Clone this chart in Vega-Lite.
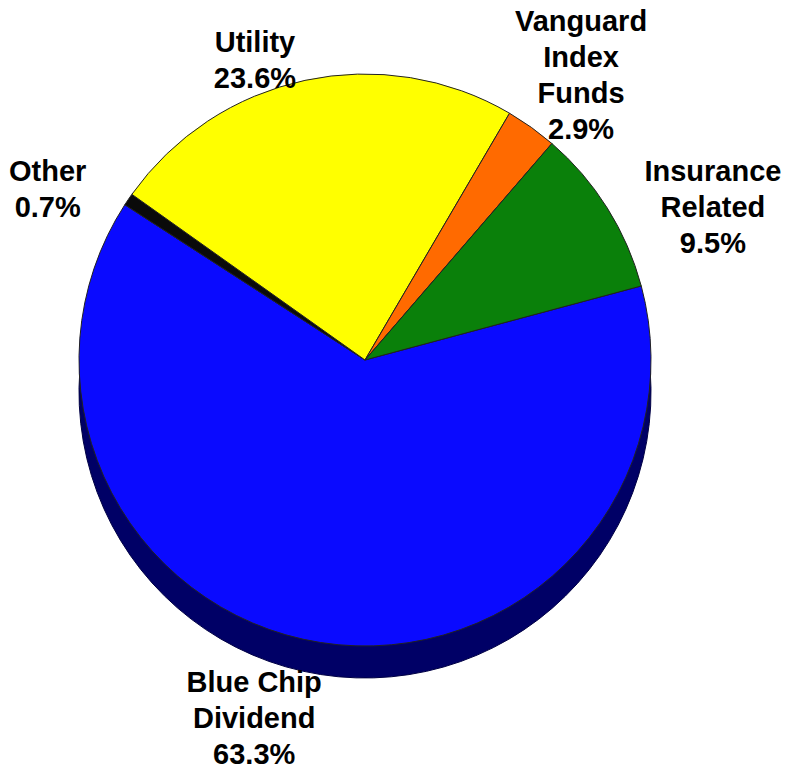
{
  "$schema": "https://vega.github.io/schema/vega-lite/v6.json",
  "width": 730,
  "height": 720,
  "autosize": {"type": "none"},
  "padding": {"left": 0, "top": 0, "right": 60, "bottom": 54},
  "background": "white",
  "config": {"view": {"stroke": null}, "text": {"font": "Liberation Sans", "fontWeight": "bold", "fontSize": 29, "lineHeight": 36, "lineBreak": "\n", "align": "center", "baseline": "middle", "color": "#000000"}},
  "data": {
    "values": [
      {"category": "Blue Chip Dividend", "value": 63.3, "rank": 1, "label": "Blue Chip\nDividend\n63.3%"},
      {"category": "Other", "value": 0.7, "rank": 2, "label": "Other\n0.7%"},
      {"category": "Utility", "value": 23.6, "rank": 3, "label": "Utility\n23.6%"},
      {"category": "Vanguard Index Funds", "value": 2.9, "rank": 4, "label": "Vanguard\nIndex\nFunds\n2.9%"},
      {"category": "Insurance Related", "value": 9.5, "rank": 5, "label": "Insurance\nRelated\n9.5%"}
    ]
  },
  "encoding": {
    "theta": {"field": "value", "type": "quantitative", "stack": true, "scale": {"range": [1.309, 7.5922]}},
    "order": {"field": "rank", "type": "quantitative"}
  },
  "layer": [
    {
      "mark": {"type": "arc", "outerRadius": 286, "yOffset": 32, "fill": "#000066", "stroke": "#000044", "strokeWidth": 1}
    },
    {
      "mark": {"type": "arc", "outerRadius": 286, "stroke": "#222222", "strokeWidth": 1},
      "encoding": {
        "color": {
          "field": "category",
          "type": "nominal",
          "scale": {
            "domain": ["Blue Chip Dividend", "Other", "Utility", "Vanguard Index Funds", "Insurance Related"],
            "range": ["#0A0AFF", "#0A0A0A", "#FFFF00", "#FF6A00", "#0A800A"]
          },
          "legend": null
        }
      }
    },
    {
      "mark": {"type": "text", "radius": 327, "dx": -60},
      "encoding": {"text": {"condition": {"test": "datum.rank == 1", "field": "label"}, "value": ""}}
    },
    {
      "mark": {"type": "text", "radius": 335, "dx": -40},
      "encoding": {"text": {"condition": {"test": "datum.rank == 2", "field": "label"}, "value": ""}}
    },
    {
      "mark": {"type": "text", "radius": 324, "dx": -42},
      "encoding": {"text": {"condition": {"test": "datum.rank == 3", "field": "label"}, "value": ""}}
    },
    {
      "mark": {"type": "text", "radius": 416, "dx": -26},
      "encoding": {"text": {"condition": {"test": "datum.rank == 4", "field": "label"}, "value": ""}}
    },
    {
      "mark": {"type": "text", "radius": 354, "dx": 48},
      "encoding": {"text": {"condition": {"test": "datum.rank == 5", "field": "label"}, "value": ""}}
    }
  ]
}
